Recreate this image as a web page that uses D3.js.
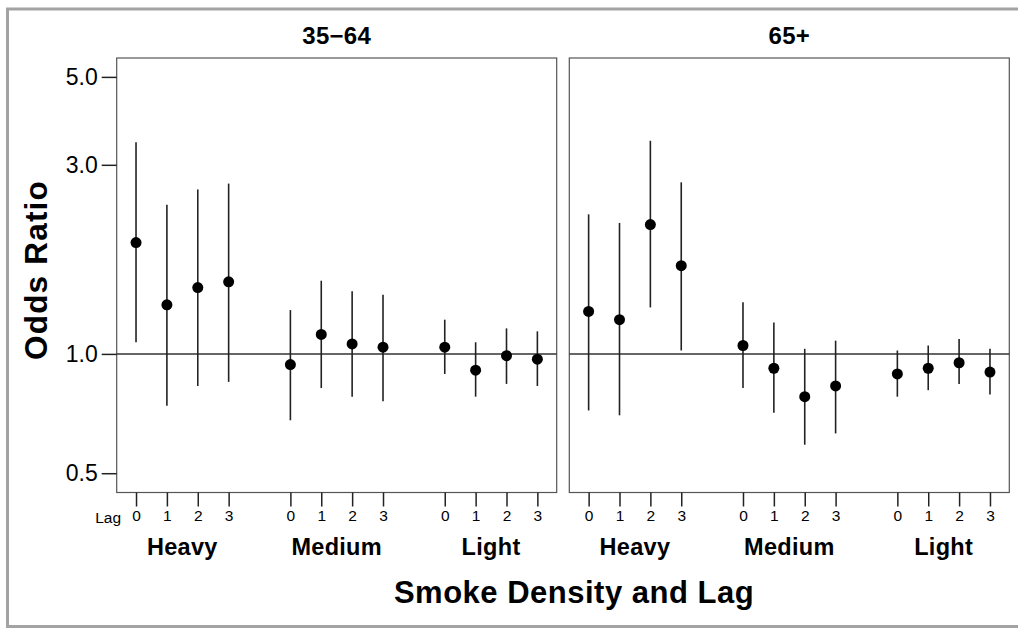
<!DOCTYPE html>
<html><head><meta charset="utf-8">
<script src="https://cdn.jsdelivr.net/npm/d3@7"></script>
<style>body{margin:0;background:#fff}svg{display:block}text{font-family:"Liberation Sans",Arial,sans-serif;fill:#000}</style>
</head><body>
<svg id="c" width="1018" height="629"></svg>
<script>
const panels = ["35\u221264", "65+"];
const densities = ["Heavy", "Medium", "Light"];
const lags = ["0", "1", "2", "3"];
const yTicks = [0.5, 1.0, 3.0, 5.0];
// estimates per panel, ordered Heavy 0-3, Medium 0-3, Light 0-3
const est35 = [1.91, 1.33, 1.47, 1.52, 0.94, 1.12, 1.06, 1.04, 1.04, 0.91, 0.99, 0.97];
const low35 = [1.07, 0.74, 0.83, 0.85, 0.68, 0.82, 0.78, 0.76, 0.89, 0.78, 0.84, 0.83];
const up35  = [3.42, 2.38, 2.60, 2.69, 1.29, 1.53, 1.44, 1.41, 1.22, 1.07, 1.16, 1.14];
const est65 = [1.28, 1.22, 2.12, 1.67, 1.05, 0.92, 0.78, 0.83, 0.89, 0.92, 0.95, 0.90];
const low65 = [0.72, 0.70, 1.31, 1.02, 0.82, 0.71, 0.59, 0.63, 0.78, 0.81, 0.84, 0.79];
const up65  = [2.25, 2.14, 3.45, 2.71, 1.35, 1.20, 1.03, 1.08, 1.02, 1.05, 1.09, 1.03];

const data = [
  {title: panels[0], est: est35, low: low35, up: up35, x0: 116.7, x1: 556.7},
  {title: panels[1], est: est65, low: low65, up: up65, x0: 569.3, x1: 1009.3}
];
const svg = d3.select("#c");
svg.append("rect").attr("x", 7.5).attr("y", 9).attr("width", 1020).attr("height", 617.5)
  .attr("fill", "none").attr("stroke", "#a3a3a3").attr("stroke-width", 3);

const yTop = 58, yBottom = 492.5;
const y = d3.scaleLog().domain([0.447, 5.58]).range([yBottom, yTop]);
const pos = (i) => Math.floor(i / 4) * 5 + (i % 4);

data.forEach((p, pi) => {
  const x = d3.scaleLinear().domain([-0.626, 13.626]).range([p.x0, p.x1]);
  const g = svg.append("g");
  g.append("rect").attr("x", p.x0).attr("y", yTop).attr("width", p.x1 - p.x0).attr("height", yBottom - yTop)
    .attr("fill", "none").attr("stroke", "#555").attr("stroke-width", 1.2);
  g.append("line").attr("x1", p.x0).attr("x2", p.x1).attr("y1", y(1)).attr("y2", y(1))
    .attr("stroke", "#333").attr("stroke-width", 1.5);
  g.append("text").attr("x", (p.x0 + p.x1) / 2).attr("y", 43.5).attr("text-anchor", "middle")
    .style("font-size", "24px").style("font-weight", "bold").style("letter-spacing", "0.3px").text(p.title);
  // x axis
  const idx = d3.range(12);
  const xAxis = d3.axisBottom(x).tickValues(idx.map(pos)).tickSize(14).tickPadding(3)
    .tickFormat((d) => lags[d % 5]);
  const ax = g.append("g").attr("transform", `translate(0,${yBottom})`).call(xAxis);
  ax.attr("font-size", null);
  ax.select(".domain").remove();
  ax.selectAll(".tick line").attr("stroke", "#222").attr("stroke-width", 1.5);
  ax.selectAll(".tick text").style("font-size", "15.5px").attr("fill", "#000");
  densities.forEach((dn, di) => {
    g.append("text").attr("x", x(di * 5 + 1.5)).attr("y", 555).attr("text-anchor", "middle")
      .style("font-size", "23.5px").style("font-weight", "bold").style("letter-spacing", "0.3px").text(dn);
  });
  // error bars
  g.selectAll("line.err").data(idx).join("line").attr("class", "err")
    .attr("x1", (i) => x(pos(i))).attr("x2", (i) => x(pos(i)))
    .attr("y1", (i) => y(p.low[i])).attr("y2", (i) => y(p.up[i]))
    .attr("stroke", "#222").attr("stroke-width", 1.6);
  g.selectAll("circle").data(idx).join("circle")
    .attr("cx", (i) => x(pos(i))).attr("cy", (i) => y(p.est[i])).attr("r", 5.5).attr("fill", "#000");
  if (pi === 0) {
    g.append("text").attr("x", x(0) - 15).attr("y", 523).attr("text-anchor", "end")
      .style("font-size", "15.5px").text("Lag");
    const yAxis = d3.axisLeft(y).tickValues(yTicks).tickSize(15).tickPadding(4).tickFormat(d3.format(".1f"));
    const ay = g.append("g").attr("transform", `translate(${p.x0},0)`).call(yAxis);
    ay.select(".domain").remove();
    ay.selectAll(".tick line").attr("stroke", "#222").attr("stroke-width", 1.5);
    ay.selectAll(".tick text").style("font-size", "23px").attr("fill", "#000");
  }
});
svg.append("text").attr("transform", "translate(47,270) rotate(-90)").attr("text-anchor", "middle")
  .style("font-size", "31.5px").style("font-weight", "bold").style("letter-spacing", "1.2px").text("Odds Ratio");
svg.append("text").attr("x", 574).attr("y", 603).attr("text-anchor", "middle")
  .style("font-size", "31px").style("font-weight", "bold").style("letter-spacing", "0.5px").text("Smoke Density and Lag");
</script>
</body></html>
